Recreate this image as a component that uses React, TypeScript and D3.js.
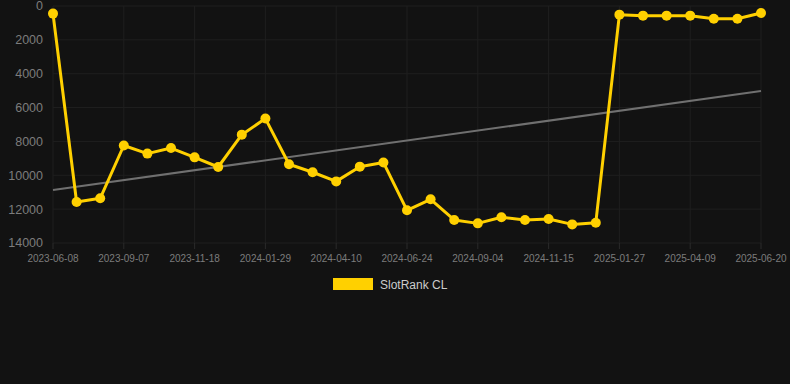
import React from "react";
import * as d3 from "d3";

const tickLabels = ["2023-06-08","2023-09-07","2023-11-18","2024-01-29","2024-04-10","2024-06-24","2024-09-04","2024-11-15","2025-01-27","2025-04-09","2025-06-20"];
const rankValues = [450,11580,11360,8240,8720,8390,8940,9510,7600,6650,9350,9820,10360,9490,9240,12070,11420,12640,12840,12480,12640,12580,12900,12800,510,570,570,570,750,750,410];
const trendValues = [10870, 5020];
const yTicks = [0,2000,4000,6000,8000,10000,12000,14000];
const seriesName = "SlotRank CL";

const W = 790, H = 384;
const left = 53, right = 761, top = 6, bottom = 243;

export default function App() {
  React.useEffect(() => {
    document.body.style.margin = "0";
    document.body.style.background = "#121212";
  }, []);
  const x = d3.scaleLinear().domain([0, rankValues.length - 1]).range([left, right]);
  const y = d3.scaleLinear().domain([0, 14000]).range([top, bottom]);
  const line = d3.line<number>().x((_, i) => x(i)).y(d => y(d));
  const tickIdx = tickLabels.map((_, i) => i * 3);
  const font = "Arial, 'Liberation Sans', sans-serif";
  return (
    <svg width={W} height={H} style={{ display: "block", background: "#121212" }}>
      <rect width={W} height={H} fill="#121212" />
      {yTicks.map(t => (
        <g key={t}>
          <line x1={left} x2={right} y1={y(t)} y2={y(t)} stroke="#1f1f1f" strokeWidth={1} />
          <text x={43} y={y(t)} dy="0.35em" textAnchor="end" fill="#7c7c7c" fontSize={12.5} fontFamily={font}>{t}</text>
        </g>
      ))}
      {tickIdx.map((ti, i) => (
        <g key={ti}>
          <line x1={x(ti)} x2={x(ti)} y1={top} y2={bottom} stroke="#1f1f1f" strokeWidth={1} />
          <line x1={x(ti)} x2={x(ti)} y1={bottom} y2={bottom + 6} stroke="#2a2a2a" strokeWidth={1} />
          <text x={x(ti)} y={262} textAnchor="middle" fill="#7c7c7c" fontSize={10} fontFamily={font}>{tickLabels[i]}</text>
        </g>
      ))}
      <line x1={x(0)} x2={x(rankValues.length - 1)} y1={y(trendValues[0])} y2={y(trendValues[1])} stroke="#707070" strokeWidth={2} />
      <path d={line(rankValues) || ""} fill="none" stroke="#FFD000" strokeWidth={3} strokeLinejoin="round" />
      {rankValues.map((v, i) => (
        <circle key={i} cx={x(i)} cy={y(v)} r={5} fill="#FFD000" />
      ))}
      <rect x={333} y={278} width={40} height={12} fill="#FFD000" />
      <text x={380} y={288.5} fill="#cccccc" fontSize={12} fontFamily={font}>{seriesName}</text>
    </svg>
  );
}
